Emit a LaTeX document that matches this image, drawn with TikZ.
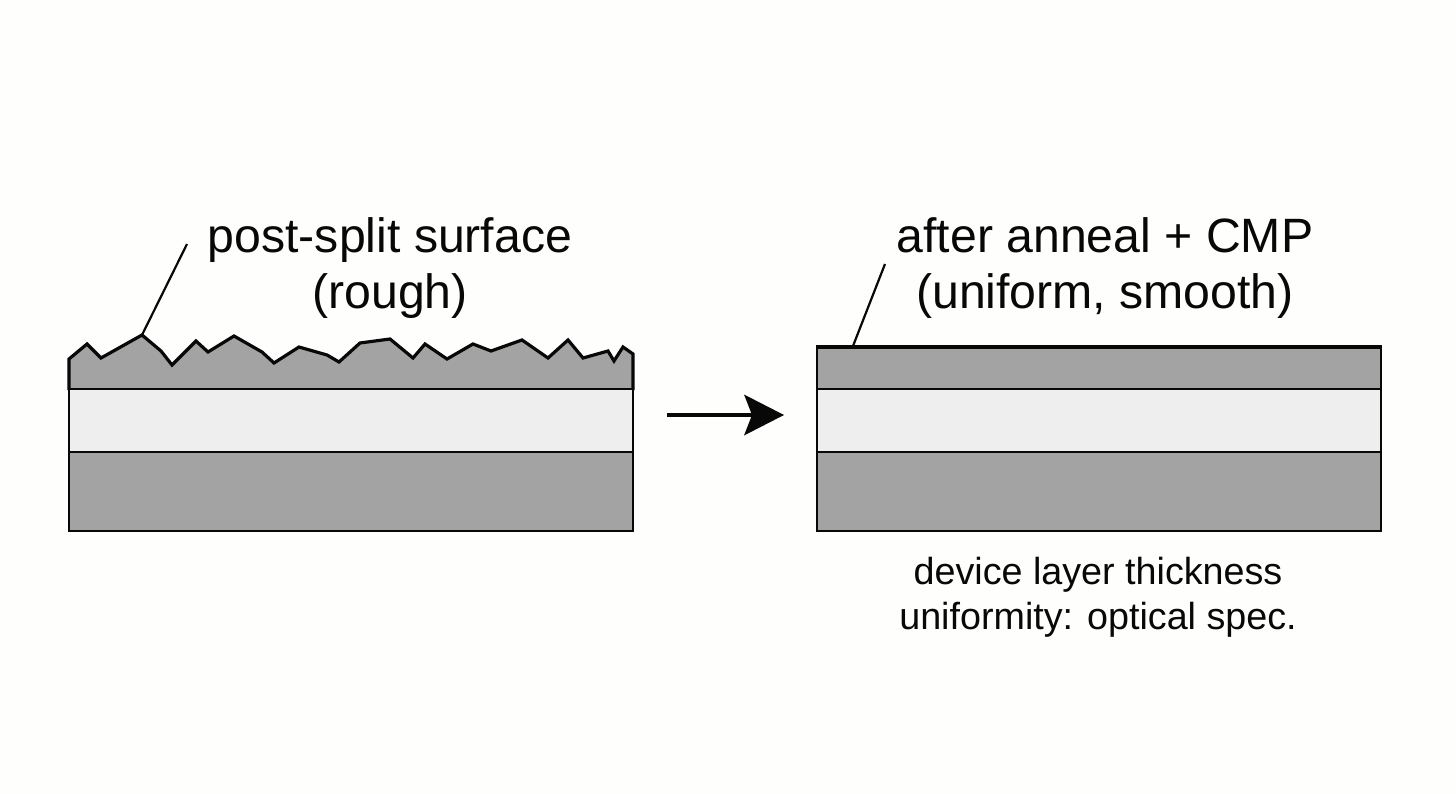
\documentclass[tikz,border=0pt]{standalone}
\usepackage{fontspec}
\setmainfont{Liberation Sans}
\definecolor{layer}{RGB}{163,163,163}
\definecolor{oxide}{RGB}{238,238,238}
\definecolor{paper}{RGB}{254,254,253}
\definecolor{ink}{RGB}{8,8,8}
\begin{document}
\begin{tikzpicture}[x=1pt,y=-1pt,
  layerbox/.style={draw=ink,line width=2.6pt,fill=layer,line join=miter},
  oxidebox/.style={draw=ink,line width=2.6pt,fill=oxide},
  leader/.style={draw=ink,line width=2.2pt},
  big/.style={font=\fontsize{48.2}{56}\selectfont,align=center,text=ink,inner sep=0pt},
  small/.style={font=\fontsize{37.7}{45}\selectfont,align=center,text=ink,inner sep=0pt}]
\path[use as bounding box,fill=paper] (0,0) rectangle (1456,794);
% left stack
\fill[layer] (69,389) -- (69,359) -- (87,344) -- (101,358) -- (142,335) -- (161,351) -- (172,365) -- (196,341) -- (208,352) -- (234,336) -- (262,352) -- (274,363) -- (299,347) -- (327,355) -- (339,362) -- (360,343) -- (390,339) -- (413,358) -- (425,344) -- (447,359) -- (473,344) -- (491,351) -- (522,340) -- (548,358) -- (568,340) -- (583,358) -- (608,351) -- (614,361) -- (623,347) -- (633,354) -- (633,389) -- cycle;
\draw[ink,line width=3.2pt,line join=miter,miter limit=3] (69,390) -- (69,359) -- (87,344) -- (101,358) -- (142,335) -- (161,351) -- (172,365) -- (196,341) -- (208,352) -- (234,336) -- (262,352) -- (274,363) -- (299,347) -- (327,355) -- (339,362) -- (360,343) -- (390,339) -- (413,358) -- (425,344) -- (447,359) -- (473,344) -- (491,351) -- (522,340) -- (548,358) -- (568,340) -- (583,358) -- (608,351) -- (614,361) -- (623,347) -- (633,354) -- (633,390);
\path[oxidebox] (69,389) rectangle (633,452);
\path[layerbox] (69,452) rectangle (633,531);
% right stack
\path[layerbox] (817,347) rectangle (1381,389);
\draw[ink,line width=3.6pt] (815.7,347) -- (1382.3,347);
\path[oxidebox] (817,389) rectangle (1381,452);
\path[layerbox] (817,452) rectangle (1381,531);
% leaders
\coordinate (lpeak) at (142,335);
\coordinate (lfree) at (187,244);
\coordinate (rtop) at (853,346);
\coordinate (rfree) at (885,264);
\path[leader] (lpeak) -- (lfree);
\path[leader] (rtop) -- (rfree);
% arrow
\coordinate (astart) at (667,415);
\coordinate (aneck) at (752,415);
\coordinate (atip) at (784,415);
\draw[ink,line width=4pt] (astart) -- (aneck);
\fill[ink] (atip) -- (744,394.5) -- (752,415) -- (744,435.5) -- cycle;
% labels
\node[big] (lt) at (390,268) {post-split surface\\(rough)};
\node[big] (rt) at (1105,268) {after anneal + CMP\\(uniform, smooth)};
\node[small] (note) at (1098,597) {device layer thickness\\uniformity: optical spec.};
\end{tikzpicture}
\end{document}
